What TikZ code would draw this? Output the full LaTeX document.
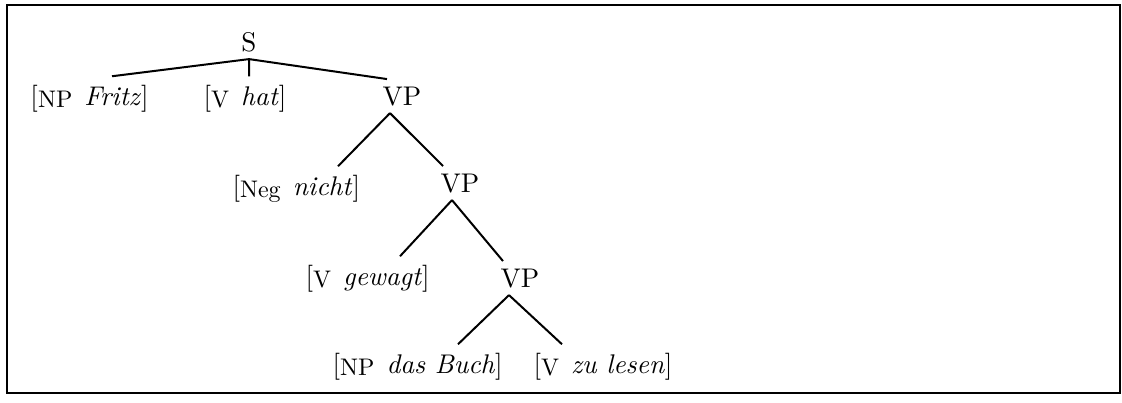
\documentclass[tikz,border=0pt]{standalone}
\usepackage{tikz}
\usetikzlibrary{positioning}

\newcommand{\lab}[2]{[\raisebox{-1pt}{\fontsize{9.6}{11}\selectfont #1}\hspace{0.45em}\textit{#2}]}

\begin{document}
\begin{tikzpicture}[
    x=0.4pt, y=-0.4pt,
    every node/.style={font=\fontsize{10.8}{13}\selectfont},
    cat/.style={inner sep=0pt, outer ysep=3pt, anchor=base west},
    leaf/.style={inner sep=0pt, outer ysep=3pt, anchor=base west, text height=8.5pt, text depth=2pt},
    edge/.style={line width=0.8pt},
    frame/.style={line width=1pt}
]

% Frame
\useasboundingbox (0,0) rectangle (1122,402);
\draw[frame] (7,5) rectangle (1120,393);

% Root
\node[cat, anchor=base] (s) at (249,51) {S};

% Level 1
\node[leaf] (fritz) at (30,105) {\lab{NP}{Fritz}};
\node[leaf] (hat) at (203,105) {\lab{V}{hat}};
\node[cat] (vp1) at (382,105) {VP};

% Level 2
\node[leaf] (nicht) at (232,195) {\lab{Neg}{nicht}};
\node[cat] (vp2) at (440,192) {VP};

% Level 3
\node[leaf] (gewagt) at (305,285) {\lab{V}{gewagt}};
\node[cat] (vp3) at (500,287) {VP};

% Level 4
\node[leaf] (buch) at (332,373) {\lab{NP}{das Buch}};
\node[leaf] (lesen) at (533,373) {\lab{V}{zu lesen}};

% Branches
\draw[edge] (s.south) -- ([xshift=32.8pt]fritz.north west);
\draw[edge] (s.south) -- ([xshift=18.4pt]hat.north west);
\draw[edge] (s.south) -- ([xshift=2pt]vp1.north west);
\draw[edge] ([xshift=3.2pt]vp1.south west) -- ([xshift=42.4pt]nicht.north west);
\draw[edge] ([xshift=3.2pt]vp1.south west) -- ([xshift=1.2pt]vp2.north west);
\draw[edge] ([xshift=4.8pt]vp2.south west) -- ([xshift=38pt]gewagt.north west);
\draw[edge] ([xshift=4.8pt]vp2.south west) -- ([xshift=1.2pt]vp3.north west);
\draw[edge] ([xshift=3.6pt]vp3.south west) -- ([xshift=50.4pt]buch.north west);
\draw[edge] ([xshift=3.6pt]vp3.south west) -- ([xshift=11.6pt]lesen.north west);

\end{tikzpicture}
\end{document}
